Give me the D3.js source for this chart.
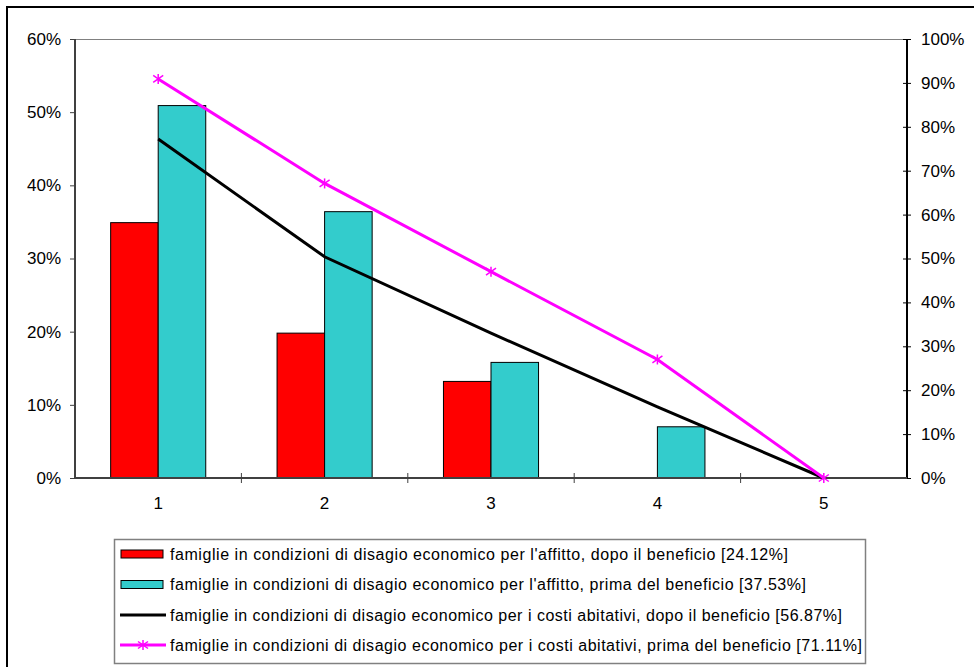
<!DOCTYPE html>
<html>
<head>
<meta charset="utf-8">
<script src="https://cdn.jsdelivr.net/npm/d3@7"></script>
<style>
  body { margin: 0; background: #fff; }
  svg { font-family: "Liberation Sans", Arial, sans-serif; }
</style>
</head>
<body>
<div id="chart"></div>
<script>
// categories
const categories = ["1", "2", "3", "4", "5"];

// bars, left axis
const affittoDopo = [0.349, 0.198, 0.132, 0, 0];
const affittoPrima = [0.509, 0.364, 0.158, 0.070, 0];

// lines, right axis
const costiDopo = [0.772, 0.504, 0.330, 0.162, 0];
const costiPrima = [0.909, 0.671, 0.470, 0.270, 0];

const leftTicks = [0, 0.1, 0.2, 0.3, 0.4, 0.5, 0.6];
const rightTicks = [0, 0.1, 0.2, 0.3, 0.4, 0.5, 0.6, 0.7, 0.8, 0.9, 1];

const legendLabels = [
  "famiglie in condizioni di disagio economico per l'affitto, dopo il beneficio [24.12%]",
  "famiglie in condizioni di disagio economico per l'affitto, prima del beneficio [37.53%]",
  "famiglie in condizioni di disagio economico per i costi abitativi, dopo il beneficio [56.87%]",
  "famiglie in condizioni di disagio economico per i costi abitativi, prima del beneficio [71.11%]"
];

const width = 974, height = 667;
const plot = { left: 75, right: 907, top: 39, bottom: 478 };
const red = "#ff0000", teal = "#33cccc", magenta = "#ff00ff";
const fontSize = 16;
const tickFontSize = 17;

const svg = d3.select("#chart").append("svg")
  .attr("width", width)
  .attr("height", height);

// outer chart border (only left/top visible in frame)
svg.append("rect")
  .attr("x", 7).attr("y", 7)
  .attr("width", width).attr("height", height)
  .attr("fill", "none").attr("stroke", "#000").attr("stroke-width", 2);

//#region scales
const x = d3.scaleBand().domain(categories).range([plot.left, plot.right]);
// gap width 150% -> each bar = band / 3.5
const barW = x.bandwidth() / 3.5;
const xInner = d3.scaleBand().domain([0, 1])
  .range([x.bandwidth() / 2 - barW, x.bandwidth() / 2 + barW]).padding(0);

const yLeft = d3.scaleLinear().domain([0, 0.6]).range([plot.bottom, plot.top]);
const yRight = d3.scaleLinear().domain([0, 1]).range([plot.bottom, plot.top]);
//#endregion

// plot area top border
svg.append("line")
  .attr("x1", plot.left).attr("x2", plot.right)
  .attr("y1", plot.top + 0.5).attr("y2", plot.top + 0.5)
  .attr("stroke", "#808080");

//#region bars
const bars = svg.append("g");
[affittoDopo, affittoPrima].forEach((series, si) => {
  bars.selectAll(null)
    .data(series.map((v, i) => ({ cat: categories[i], v })).filter(d => d.v > 0))
    .enter()
    .append("rect")
    .attr("x", d => x(d.cat) + xInner(si))
    .attr("y", d => yLeft(d.v))
    .attr("width", xInner.bandwidth())
    .attr("height", d => yLeft(0) - yLeft(d.v))
    .attr("fill", si === 0 ? red : teal)
    .attr("stroke", "#000")
    .attr("stroke-width", 1);
});
//#endregion

//#region axes
const fmt = d3.format(".0%");
const axisL = svg.append("g")
  .attr("transform", `translate(${plot.left},0)`)
  .call(d3.axisLeft(yLeft).tickValues(leftTicks).tickFormat(fmt).tickSize(5).tickPadding(9));
axisL.select(".domain").attr("stroke", "#404040").attr("stroke-width", 2)
  .attr("d", `M0,${plot.top}V${plot.bottom}`);

const axisR = svg.append("g")
  .attr("transform", `translate(${plot.right},0)`)
  .call(d3.axisRight(yRight).tickValues(rightTicks).tickFormat(fmt).tickSize(4).tickPadding(10));
axisR.selectAll(".tick line").attr("x1", -4);
axisR.select(".domain").attr("stroke-width", 2)
  .attr("d", `M0,${plot.top}V${plot.bottom}`);

const axisB = svg.append("g")
  .attr("transform", `translate(0,${plot.bottom})`)
  .call(d3.axisBottom(x).tickSize(0).tickPadding(19));
axisB.select(".domain").attr("stroke", "#404040").attr("stroke-width", 2)
  .attr("d", `M${plot.left},0H${plot.right}`);
// tick marks at category boundaries
axisB.selectAll(".boundary")
  .data(categories.slice(1))
  .enter()
  .append("line")
  .attr("x1", d => x(d)).attr("x2", d => x(d))
  .attr("y1", -5).attr("y2", 5)
  .attr("stroke", "#404040");

[axisL, axisR, axisB].forEach(a => {
  a.selectAll("text").attr("font-size", tickFontSize).attr("fill", "#000")
    .attr("font-family", "Liberation Sans, Arial, sans-serif");
  a.selectAll(".tick line").attr("stroke", a === axisR ? "#000" : "#404040");
});
//#endregion

//#region lines
const cx = c => x(c) + x.bandwidth() / 2;
const lineGen = d3.line()
  .x((d, i) => cx(categories[i]))
  .y(d => yRight(d));

svg.append("path")
  .datum(costiDopo)
  .attr("d", lineGen)
  .attr("fill", "none")
  .attr("stroke", "#000")
  .attr("stroke-width", 3);

svg.append("path")
  .datum(costiPrima)
  .attr("d", lineGen)
  .attr("fill", "none")
  .attr("stroke", magenta)
  .attr("stroke-width", 3);

function star(g, px, py, r) {
  const s = g.append("g").attr("transform", `translate(${px},${py})`)
    .attr("stroke", magenta).attr("stroke-width", 1.5);
  s.append("line").attr("x1", 0).attr("x2", 0).attr("y1", -r).attr("y2", r);
  s.append("line").attr("x1", -r).attr("x2", r).attr("y1", -r * 0.7).attr("y2", r * 0.7);
  s.append("line").attr("x1", -r).attr("x2", r).attr("y1", r * 0.7).attr("y2", -r * 0.7);
}
const markers = svg.append("g");
costiPrima.forEach((d, i) => star(markers, cx(categories[i]), yRight(d), 5));
//#endregion

//#region legend
const legend = svg.append("g");
legend.append("rect")
  .attr("x", 114.5).attr("y", 539.5)
  .attr("width", 751).attr("height", 124)
  .attr("fill", "#fff").attr("stroke", "#808080").attr("stroke-width", 1.5);

const rowY = [554, 584.5, 615, 645];
const textLen = [618, 636, 672, 692];
legendLabels.forEach((label, i) => {
  const y = rowY[i];
  if (i < 2) {
    legend.append("rect")
      .attr("x", 121).attr("y", y - 4)
      .attr("width", 42).attr("height", 8)
      .attr("fill", i === 0 ? red : teal)
      .attr("stroke", "#000").attr("stroke-width", 1);
  } else {
    legend.append("line")
      .attr("x1", 120).attr("x2", 166)
      .attr("y1", y).attr("y2", y)
      .attr("stroke", i === 2 ? "#000" : magenta)
      .attr("stroke-width", 3);
    if (i === 3) star(legend, 143, y, 5);
  }
  legend.append("text")
    .attr("x", 170).attr("y", y)
    .attr("dy", "0.35em")
    .attr("font-size", fontSize)
    .attr("textLength", textLen[i])
    .attr("lengthAdjust", "spacing")
    .text(label);
});
//#endregion
</script>
</body>
</html>
